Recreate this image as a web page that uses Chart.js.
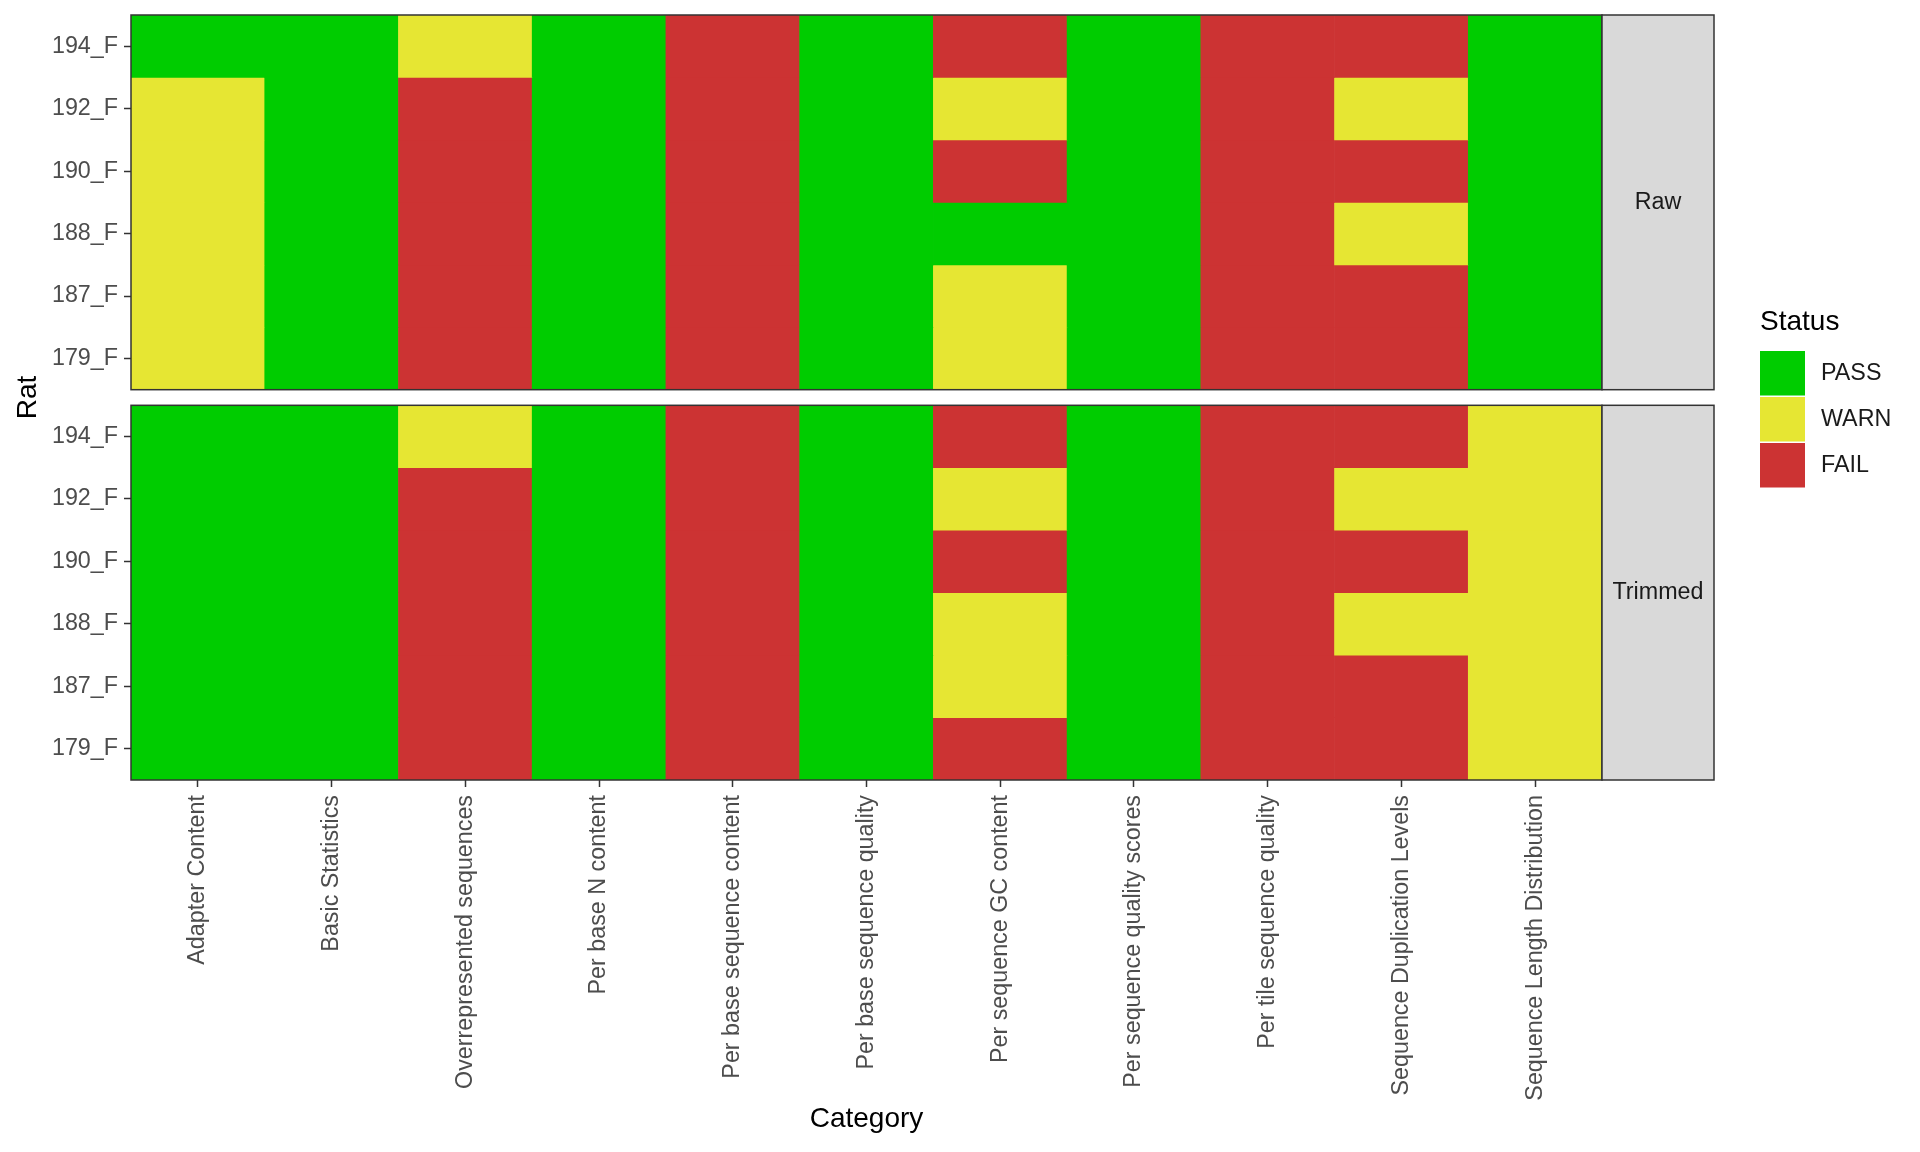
<!DOCTYPE html>
<html>
<head>
<meta charset="utf-8">
<script src="https://cdn.jsdelivr.net/npm/chart.js@4.4.1/dist/chart.umd.min.js"></script>
<style>
  html, body { margin: 0; padding: 0; background: #fff; }
  #wrap { width: 1920px; height: 1152px; position: relative; }
</style>
</head>
<body>
<div id="wrap"><canvas id="qcChart"></canvas></div>
<script>
// FastQC module results per rat, Raw vs Trimmed reads
const categories = [
  'Adapter Content', 'Basic Statistics', 'Overrepresented sequences',
  'Per base N content', 'Per base sequence content', 'Per base sequence quality',
  'Per sequence GC content', 'Per sequence quality scores', 'Per tile sequence quality',
  'Sequence Duplication Levels', 'Sequence Length Distribution'
];
const rats = ['194_F', '192_F', '190_F', '188_F', '187_F', '179_F'];
const panels = ['Raw', 'Trimmed'];
const statusLevels = ['PASS', 'WARN', 'FAIL'];

// one row per rat (same order as rats), one entry per category
const rawStatus = [
  ['PASS', 'PASS', 'WARN', 'PASS', 'FAIL', 'PASS', 'FAIL', 'PASS', 'FAIL', 'FAIL', 'PASS'],
  ['WARN', 'PASS', 'FAIL', 'PASS', 'FAIL', 'PASS', 'WARN', 'PASS', 'FAIL', 'WARN', 'PASS'],
  ['WARN', 'PASS', 'FAIL', 'PASS', 'FAIL', 'PASS', 'FAIL', 'PASS', 'FAIL', 'FAIL', 'PASS'],
  ['WARN', 'PASS', 'FAIL', 'PASS', 'FAIL', 'PASS', 'PASS', 'PASS', 'FAIL', 'WARN', 'PASS'],
  ['WARN', 'PASS', 'FAIL', 'PASS', 'FAIL', 'PASS', 'WARN', 'PASS', 'FAIL', 'FAIL', 'PASS'],
  ['WARN', 'PASS', 'FAIL', 'PASS', 'FAIL', 'PASS', 'WARN', 'PASS', 'FAIL', 'FAIL', 'PASS']
];
const trimmedStatus = [
  ['PASS', 'PASS', 'WARN', 'PASS', 'FAIL', 'PASS', 'FAIL', 'PASS', 'FAIL', 'FAIL', 'WARN'],
  ['PASS', 'PASS', 'FAIL', 'PASS', 'FAIL', 'PASS', 'WARN', 'PASS', 'FAIL', 'WARN', 'WARN'],
  ['PASS', 'PASS', 'FAIL', 'PASS', 'FAIL', 'PASS', 'FAIL', 'PASS', 'FAIL', 'FAIL', 'WARN'],
  ['PASS', 'PASS', 'FAIL', 'PASS', 'FAIL', 'PASS', 'WARN', 'PASS', 'FAIL', 'WARN', 'WARN'],
  ['PASS', 'PASS', 'FAIL', 'PASS', 'FAIL', 'PASS', 'WARN', 'PASS', 'FAIL', 'FAIL', 'WARN'],
  ['PASS', 'PASS', 'FAIL', 'PASS', 'FAIL', 'PASS', 'FAIL', 'PASS', 'FAIL', 'FAIL', 'WARN']
];

const statusColors = { PASS: '#00CC00', WARN: '#E6E633', FAIL: '#CC3333' };
const FONT = '"Liberation Sans", Arial, Helvetica, sans-serif';
const TEXT_SIZE = 23.3;
const TITLE_SIZE = 28;
const GAP = 0.25; // space between the two facet panels, in row units

const nRows = rats.length;
// panel 0 (Raw) sits on top, panel 1 (Trimmed) at the bottom
const panelBase = [nRows + GAP, 0];
const panelStatus = [rawStatus, trimmedStatus];

const datasets = [];
const tickValues = [];
const tickLabels = {};
panels.forEach((p, pi) => {
  rats.forEach((rat, r) => {
    const lo = panelBase[pi] + (nRows - 1 - r);
    datasets.push({
      label: p + ' ' + rat,
      data: categories.map(() => [lo, lo + 1]),
      backgroundColor: panelStatus[pi][r].map(s => statusColors[s]),
      borderWidth: 0,
      barPercentage: 1,
      categoryPercentage: 1,
      grouped: false
    });
    tickValues.push(lo + 0.5);
    tickLabels[(lo + 0.5).toFixed(2)] = rat;
  });
});

// panel borders, facet strips and legend
const facetPlugin = {
  id: 'facets',
  afterDatasetsDraw(chart) {
    const { ctx, scales: { x, y } } = chart;
    ctx.save();
    ctx.strokeStyle = '#333333';
    ctx.lineWidth = 1.5;
    panels.forEach((p, pi) => {
      const top = y.getPixelForValue(panelBase[pi] + nRows);
      const bot = y.getPixelForValue(panelBase[pi]);
      ctx.strokeRect(x.left, top, x.right - x.left, bot - top);
    });
    ctx.restore();
  },
  afterDraw(chart) {
    const { ctx, scales: { x, y } } = chart;
    ctx.save();
    // strips
    const sx = x.right, sw = 112;
    panels.forEach((p, pi) => {
      const top = y.getPixelForValue(panelBase[pi] + nRows);
      const bot = y.getPixelForValue(panelBase[pi]);
      ctx.fillStyle = '#D9D9D9';
      ctx.fillRect(sx, top, sw, bot - top);
      ctx.strokeStyle = '#333333';
      ctx.lineWidth = 1.5;
      ctx.strokeRect(sx, top, sw, bot - top);
      ctx.fillStyle = '#1A1A1A';
      ctx.font = TEXT_SIZE + 'px ' + FONT;
      ctx.textAlign = 'center';
      ctx.textBaseline = 'middle';
      ctx.fillText(p, sx + sw / 2, (top + bot) / 2);
    });
    // legend
    const lx = 1760, keyW = 45, keyH = 44.5;
    ctx.fillStyle = '#000';
    ctx.font = TITLE_SIZE + 'px ' + FONT;
    ctx.textAlign = 'left';
    ctx.textBaseline = 'middle';
    ctx.fillText('Status', lx, 322);
    statusLevels.forEach((s, i) => {
      const ky = 351 + i * (keyH + 1.5);
      ctx.fillStyle = statusColors[s];
      ctx.fillRect(lx, ky, keyW, keyH);
      ctx.fillStyle = '#1A1A1A';
      ctx.font = TEXT_SIZE + 'px ' + FONT;
      ctx.fillText(s, lx + 61, ky + keyH / 2);
    });
    ctx.restore();
  }
};

new Chart(document.getElementById('qcChart'), {
  type: 'bar',
  data: { labels: categories, datasets: datasets },
  options: {
    responsive: true,
    maintainAspectRatio: false,
    animation: false,
    layout: { padding: { top: 15, right: 318, left: 0, bottom: 0 } },
    plugins: { legend: { display: false }, tooltip: { enabled: false } },
    scales: {
      x: {
        offset: true,
        grid: { offset: false, drawOnChartArea: false, drawTicks: true, tickLength: 7, tickColor: '#333333', tickWidth: 1.5 },
        border: { display: false },
        ticks: {
          autoSkip: false, minRotation: 90, maxRotation: 90, padding: 8,
          color: '#4D4D4D', font: { family: FONT, size: TEXT_SIZE }
        },
        title: { display: true, text: 'Category', color: '#000', font: { family: FONT, size: TITLE_SIZE }, padding: { bottom: 16 } },
        afterFit: (scale) => {
          scale.height = 372;
          scale.paddingLeft = 0;
          scale.paddingRight = 0;
        }
      },
      y: {
        type: 'linear',
        min: 0,
        max: 2 * nRows + GAP,
        grid: { drawOnChartArea: false, drawTicks: true, tickLength: 7, tickColor: '#333333', tickWidth: 1.5 },
        border: { display: false },
        afterBuildTicks: (scale) => { scale.ticks = tickValues.map(v => ({ value: v })); },
        ticks: {
          padding: 6, color: '#4D4D4D', font: { family: FONT, size: TEXT_SIZE },
          callback: (value) => tickLabels[Number(value).toFixed(2)] || ''
        },
        title: { display: true, text: 'Rat', color: '#000', font: { family: FONT, size: TITLE_SIZE }, padding: { top: 11 } },
        afterFit: (scale) => {
          scale.width = 131;
          scale.paddingTop = 0;
          scale.paddingBottom = 0;
        }
      }
    }
  },
  plugins: [facetPlugin]
});
</script>
</body>
</html>
